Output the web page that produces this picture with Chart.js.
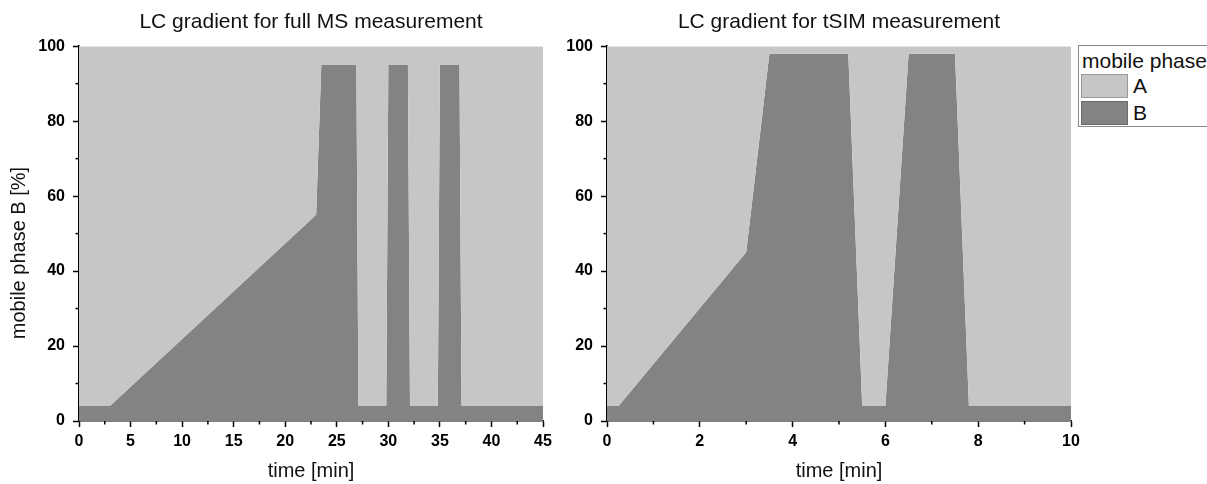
<!DOCTYPE html>
<html>
<head>
<meta charset="utf-8">
<script src="https://cdn.jsdelivr.net/npm/chart.js@4/dist/chart.umd.min.js"></script>
<style>
    body { margin: 0; background: #fff; width: 1207px; height: 484px; overflow: hidden; position: relative; font-family: "Liberation Sans", Arial, sans-serif; }
    #left-chart { position: absolute; left: 0; top: 0; }
    #right-chart { position: absolute; left: 560px; top: 0; }
    #legend { position: absolute; left: 1078px; top: 45px; width: 160px; height: 82px; border: 1px solid #8a8a8a; background: #fff; box-sizing: border-box; }
    #legend .lg-title { position: absolute; left: 3px; top: 4px; font-size: 21px; line-height: 22px; color: #111; white-space: nowrap; }
    #legend .lg-row { position: absolute; left: 2px; height: 24px; font-size: 21px; line-height: 24px; color: #111; }
    #legend .lg-swatch { display: inline-block; width: 47px; height: 24px; box-sizing: border-box; vertical-align: top; margin-right: 5px; }
</style>
</head>
<body>
<canvas id="left-chart" width="560" height="484"></canvas>
<canvas id="right-chart" width="647" height="484"></canvas>
<div id="legend"></div>
<script>
// Gradient-Daten (Zeit in min, Anteil Phase B in %)
const fullMsTime = [0, 3, 23, 23.5, 26.9, 27.1, 29.8, 30, 31.9, 32.1, 34.8, 35, 36.9, 37.1, 45];
const fullMsB    = [4, 4, 55, 95,   95,   4,    4,    95, 95,   4,    4,    95, 95,   4,    4];

const tsimTime = [0, 0.25, 3,  3.5, 5.2, 5.5, 6, 6.5, 7.5, 7.8, 10];
const tsimB    = [4, 4,    45, 98,  98,  4,   4, 98,  98,  4,   4];

// Achsen
const fullMsTicks = { min: 0, max: 45, step: 5 };
const tsimTicks = { min: 0, max: 10, step: 2 };
const yTicks = { min: 0, max: 100, step: 20 };

const phaseNames = ['A', 'B'];
const phaseColors = ['#c6c6c6', '#838383'];
const phaseBorders = ['#9a9a9a', '#6a6a6a'];

Chart.defaults.color = '#000';
Chart.defaults.font.family = '"Liberation Sans", Arial, sans-serif';

// kleine Zwischenstriche (minor ticks)
const minorTicks = {
    id: 'minorTicks',
    afterDraw(chart) {
        const ctx = chart.ctx;
        ctx.save();
        ctx.strokeStyle = '#000';
        ctx.lineWidth = 1.5;
        ['x', 'y'].forEach(id => {
            const scale = chart.scales[id];
            const vals = scale.ticks.map(t => t.value);
            for (let i = 0; i < vals.length - 1; i++) {
                const mid = (vals[i] + vals[i + 1]) / 2;
                const p = scale.getPixelForValue(mid);
                ctx.beginPath();
                if (id === 'x') {
                    ctx.moveTo(p, scale.top);
                    ctx.lineTo(p, scale.top + 3.5);
                } else {
                    ctx.moveTo(scale.right, p);
                    ctx.lineTo(scale.right - 3.5, p);
                }
                ctx.stroke();
            }
        });
        ctx.restore();
    }
};

function makeChart(canvasId, title, times, values, xt, yAxisWidth, rightPad, yTitle) {
    const points = times.map((t, i) => ({ x: t, y: values[i] }));
    const ctx = document.getElementById(canvasId).getContext('2d');
    return new Chart(ctx, {
        type: 'line',
        data: {
            datasets: [
                {
                    label: phaseNames[0],
                    data: points,
                    fill: 'end',
                    backgroundColor: phaseColors[0],
                    borderWidth: 0,
                    pointRadius: 0
                },
                {
                    label: phaseNames[1],
                    data: points,
                    fill: 'origin',
                    backgroundColor: phaseColors[1],
                    borderWidth: 0,
                    pointRadius: 0
                }
            ]
        },
        options: {
            responsive: false,
            animation: false,
            layout: { padding: { left: 0, right: rightPad, top: 0, bottom: 0 } },
            elements: { line: { tension: 0 } },
            plugins: {
                legend: { display: false },
                tooltip: { enabled: false },
                title: {
                    display: true,
                    text: title,
                    fullSize: false,
                    color: '#111',
                    font: { size: 21, weight: 'normal' },
                    padding: { top: 10, bottom: 11 }
                }
            },
            scales: {
                x: {
                    type: 'linear',
                    min: xt.min,
                    max: xt.max,
                    afterFit: s => { s.height = 63; },
                    border: { color: '#000', width: 1.5 },
                    grid: { drawOnChartArea: false, tickLength: 6, tickColor: '#000', tickWidth: 1.5 },
                    ticks: { stepSize: xt.step, padding: 5, font: { size: 16, weight: 'bold' } },
                    title: {
                        display: true,
                        text: 'time [min]',
                        color: '#111',
                        font: { size: 20 },
                        padding: { top: 0, bottom: 1 }
                    }
                },
                y: {
                    min: yTicks.min,
                    max: yTicks.max,
                    afterFit: s => { s.width = yAxisWidth; },
                    border: { color: '#000', width: 1.5 },
                    grid: { drawOnChartArea: false, tickLength: 6, tickColor: '#000', tickWidth: 1.5 },
                    ticks: { stepSize: yTicks.step, padding: 8, font: { size: 16, weight: 'bold' } },
                    title: {
                        display: !!yTitle,
                        text: yTitle || '',
                        color: '#111',
                        font: { size: 20 },
                        padding: { top: 7, bottom: 0 }
                    }
                }
            }
        },
        plugins: [minorTicks]
    });
}

// Achsentitel etwas nach unten versetzt wie im Original
const yTitleText = 'mobile phase B [%]' + '\u00a0'.repeat(7);

const leftChart = makeChart('left-chart', 'LC gradient for full MS measurement', fullMsTime, fullMsB, fullMsTicks, 79, 17, yTitleText);
const rightChart = makeChart('right-chart', 'LC gradient for tSIM measurement', tsimTime, tsimB, tsimTicks, 47, 136, null);

// Legende
function buildLegend(chart) {
    const box = document.getElementById('legend');
    const head = document.createElement('div');
    head.className = 'lg-title';
    head.textContent = 'mobile phase';
    box.appendChild(head);
    chart.data.datasets.forEach((ds, i) => {
        const row = document.createElement('div');
        row.className = 'lg-row';
        row.style.top = (28 + i * 27) + 'px';
        const sw = document.createElement('span');
        sw.className = 'lg-swatch';
        sw.style.background = ds.backgroundColor;
        sw.style.border = '1px solid ' + phaseBorders[i];
        row.appendChild(sw);
        row.appendChild(document.createTextNode(ds.label));
        box.appendChild(row);
    });
}
buildLegend(rightChart);
</script>
</body>
</html>
